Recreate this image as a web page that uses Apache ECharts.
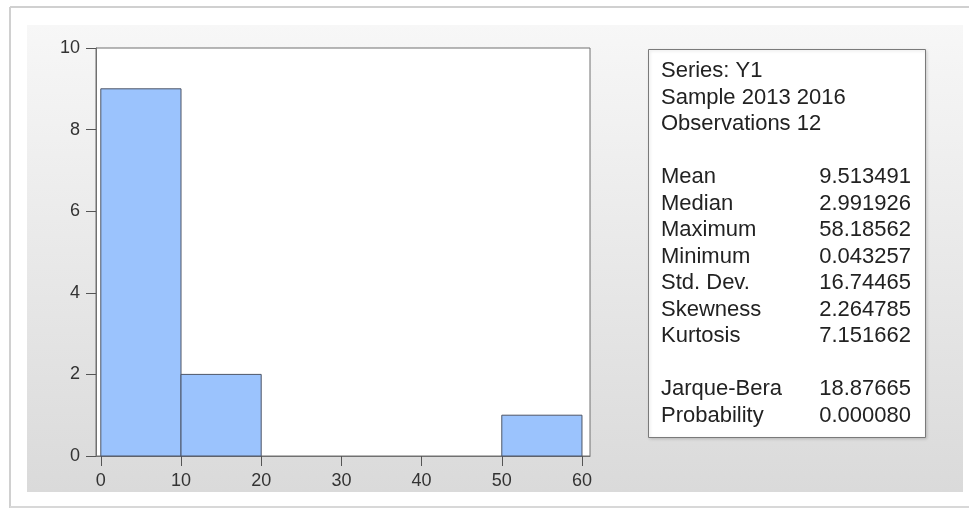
<!DOCTYPE html>
<html>
<head>
<meta charset="utf-8">
<script src="https://cdn.jsdelivr.net/npm/echarts@6/dist/echarts.min.js"></script>
<style>html,body{margin:0;padding:0;background:#fff;}#c{width:969px;height:508px;}</style>
</head>
<body>
<div id="c"></div>
<script>
// Histogram bins: [start, end, count]
var binStarts = [0, 10, 20, 30, 40, 50];
var binEnds   = [10, 20, 30, 40, 50, 60];
var binCounts = [9, 2, 0, 0, 0, 1];
var xTicks = [0, 10, 20, 30, 40, 50, 60];

// Statistics panel
var statLabels = ['Series: Y1', 'Sample 2013 2016', 'Observations 12', '',
  'Mean', 'Median', 'Maximum', 'Minimum', 'Std. Dev.', 'Skewness', 'Kurtosis', '',
  'Jarque-Bera', 'Probability'];
var statValues = ['', '', '', '',
  '9.513491', '2.991926', '58.18562', '0.043257', '16.74465', '2.264785', '7.151662', '',
  '18.87665', '0.000080'];

var chart = echarts.init(document.getElementById('c'), null, {renderer: 'canvas'});
var font = '"Liberation Sans", Arial, sans-serif';

var data = binStarts.map(function (s, i) { return [s, binEnds[i], binCounts[i]]; })
  .filter(function (d) { return d[2] > 0; });

var graphics = [
  {type: 'rect', z: -10, silent: true, shape: {x: 27, y: 25, width: 936, height: 467},
   style: {fill: new echarts.graphic.LinearGradient(0, 0, 0, 1, [
     {offset: 0, color: '#f7f7f7'}, {offset: 1, color: '#dadada'}])}},
  {type: 'line', z: -10, silent: true, shape: {x1: 10, y1: 7, x2: 969, y2: 7}, style: {stroke: '#d0d0d0', lineWidth: 2}},
  {type: 'line', z: -10, silent: true, shape: {x1: 10, y1: 7, x2: 10, y2: 508}, style: {stroke: '#d0d0d0', lineWidth: 2}},
  {type: 'line', z: -10, silent: true, shape: {x1: 10, y1: 507, x2: 969, y2: 507}, style: {stroke: '#d8d8d8', lineWidth: 2}},
  {type: 'rect', z: 5, silent: true, shape: {x: 648.5, y: 49.5, width: 277, height: 388},
   style: {fill: '#ffffff', stroke: '#7a7a7a', lineWidth: 1, shadowBlur: 3, shadowColor: 'rgba(0,0,0,0.15)', shadowOffsetX: 1, shadowOffsetY: 1}}
];
statLabels.forEach(function (t, i) {
  var y = 71 + 26.5 * i;
  if (t) graphics.push({type: 'text', z: 6, silent: true, x: 661, y: y,
    style: {text: t, font: '22px ' + font, fill: '#222222', textAlign: 'left', textVerticalAlign: 'middle'}});
  if (statValues[i]) graphics.push({type: 'text', z: 6, silent: true, x: 911, y: y,
    style: {text: statValues[i], font: '22px ' + font, fill: '#222222', textAlign: 'right', textVerticalAlign: 'middle'}});
});

chart.setOption({
  animation: false,
  backgroundColor: '#ffffff',
  grid: {left: 96, top: 48, width: 494, height: 408, show: true, backgroundColor: '#ffffff', borderColor: '#707070', borderWidth: 1, containLabel: false},
  xAxis: {
    type: 'value', min: -0.6, max: 61,
    splitLine: {show: false},
    axisLine: {show: true, onZero: false, lineStyle: {color: '#707070'}},
    axisTick: {show: true, inside: false, length: 10, customValues: xTicks, lineStyle: {color: '#555555'}},
    axisLabel: {customValues: xTicks, color: '#333333', fontSize: 18, fontFamily: font, margin: 16}
  },
  yAxis: {
    type: 'value', min: 0, max: 10, interval: 2,
    splitLine: {show: false},
    axisLine: {show: true, onZero: false, lineStyle: {color: '#707070'}},
    axisTick: {show: true, inside: false, length: 10, lineStyle: {color: '#555555'}},
    axisLabel: {color: '#333333', fontSize: 18, fontFamily: font, margin: 16}
  },
  graphic: graphics,
  series: [{
    type: 'custom',
    data: data,
    encode: {x: [0, 1], y: 2},
    renderItem: function (params, api) {
      var p0 = api.coord([api.value(0), api.value(2)]);
      var p1 = api.coord([api.value(1), 0]);
      return {type: 'rect', shape: {x: p0[0], y: p0[1], width: p1[0] - p0[0], height: p1[1] - p0[1]},
        style: {fill: '#9bc3fd', stroke: '#4d5566', lineWidth: 1}};
    }
  }]
});
</script>
</body>
</html>
